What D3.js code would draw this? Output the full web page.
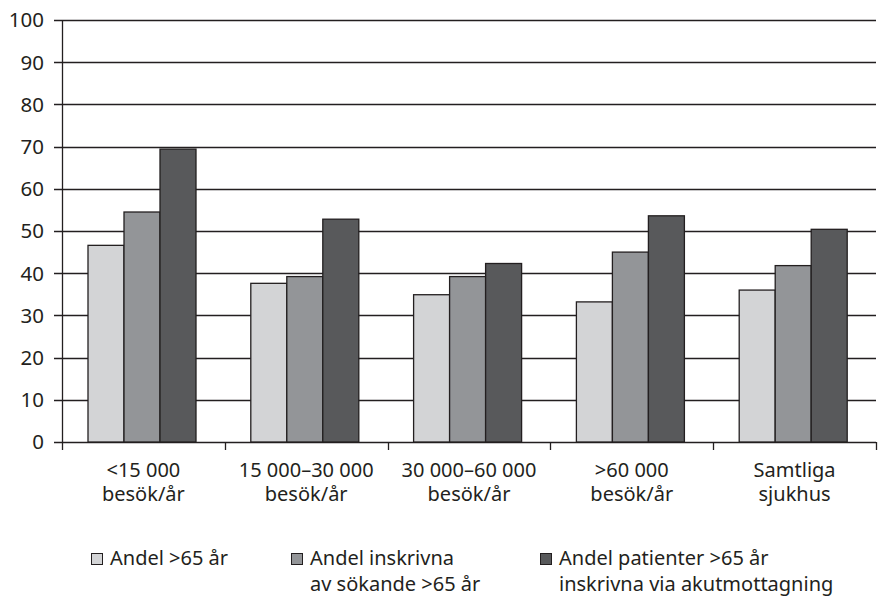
<!DOCTYPE html>
<html>
<head>
<meta charset="utf-8">
<script src="https://cdn.jsdelivr.net/npm/d3@7"></script>
<style>
  body { margin: 0; background: #fff; }
  svg text { font-family: "Noto Sans", "Open Sans", sans-serif; fill: #231f20; }
</style>
</head>
<body>
<div id="chart"></div>
<script>
const categories = [['<15 000', 'besök/år'], ['15 000–30 000', 'besök/år'], ['30 000–60 000', 'besök/år'], ['>60 000', 'besök/år'], ['Samtliga', 'sjukhus']]
const seriesNames = [['Andel >65 år'], ['Andel inskrivna', 'av sökande >65 år'], ['Andel patienter >65 år', 'inskrivna via akutmottagning']]
const andel65 = [46.6, 37.6, 34.9, 33.2, 36.0]
const andelInskrivna = [54.5, 39.2, 39.2, 45.0, 41.8]
const andelAkut = [69.4, 52.8, 42.3, 53.6, 50.4]
const yTicks = [0, 10, 20, 30, 40, 50, 60, 70, 80, 90, 100]

const series = [andel65, andelInskrivna, andelAkut]
const colors = ['#d3d4d6', '#939598', '#58595b']

const width = 880
const height = 597
const margin = { top: 20, right: 4, bottom: 155, left: 62 }
const innerW = width - margin.left - margin.right
const innerH = height - margin.top - margin.bottom

const svg = d3.select('#chart')
  .append('svg')
  .attr('width', width)
  .attr('height', height)

const g = svg.append('g')
  .attr('transform', `translate(${margin.left},${margin.top})`)

const x = d3.scaleBand()
  .domain(d3.range(categories.length))
  .range([0, 814])

const xInner = d3.scaleBand()
  .domain(d3.range(series.length))
  .range([26, 26 + 108])

const y = d3.scaleLinear()
  .domain([0, 100])
  .range([innerH, 0])

// gridlines with outward ticks
g.append('g')
  .selectAll('line')
  .data(yTicks)
  .join('line')
  .attr('x1', -8)
  .attr('x2', innerW)
  .attr('y1', d => Math.round(y(d)) + 0.5)
  .attr('y2', d => Math.round(y(d)) + 0.5)
  .attr('stroke', '#231f20')
  .attr('stroke-width', 1.3)

g.append('g')
  .selectAll('text')
  .data(yTicks)
  .join('text')
  .attr('x', -18)
  .attr('y', d => y(d))
  .attr('dy', '0.36em')
  .attr('text-anchor', 'end')
  .style('font-size', '20.5px')
  .text(d => d)

// y axis line
g.append('line')
  .attr('x1', 0.5).attr('x2', 0.5)
  .attr('y1', 0).attr('y2', innerH)
  .attr('stroke', '#231f20')
  .attr('stroke-width', 1.3)

// category ticks
g.append('g')
  .selectAll('line')
  .data(d3.range(categories.length + 1))
  .join('line')
  .attr('x1', d => Math.round(d * x.step()) + 0.5)
  .attr('x2', d => Math.round(d * x.step()) + 0.5)
  .attr('y1', innerH)
  .attr('y2', innerH + 8)
  .attr('stroke', '#231f20')
  .attr('stroke-width', 1.3)

// bars
const groups = g.append('g')
  .selectAll('g')
  .data(categories)
  .join('g')
  .attr('transform', (d, i) => `translate(${x(i)},0)`)

groups.selectAll('rect')
  .data((d, i) => series.map((s, k) => ({ k, v: s[i] })))
  .join('rect')
  .attr('x', d => xInner(d.k))
  .attr('width', xInner.bandwidth())
  .attr('y', d => y(d.v))
  .attr('height', d => innerH - y(d.v))
  .attr('fill', d => colors[d.k])
  .attr('stroke', '#231f20')
  .attr('stroke-width', 1.3)

// category labels
groups.append('text')
  .attr('x', x.bandwidth() / 2)
  .attr('y', innerH + 35)
  .attr('text-anchor', 'middle')
  .style('font-size', '20px')
  .selectAll('tspan')
  .data(d => d)
  .join('tspan')
  .attr('x', x.bandwidth() / 2)
  .attr('dy', (d, i) => i === 0 ? 0 : 24)
  .text(d => d)

// legend
const legendX = [91, 291, 540]
const legend = svg.append('g')
  .selectAll('g')
  .data(seriesNames)
  .join('g')
  .attr('transform', (d, i) => `translate(${legendX[i]},553)`)

legend.append('rect')
  .attr('x', 0.5)
  .attr('y', 0.5)
  .attr('width', 11)
  .attr('height', 11)
  .attr('fill', (d, i) => colors[i])
  .attr('stroke', '#231f20')
  .attr('stroke-width', 1)

legend.append('text')
  .attr('y', 12)
  .style('font-size', '20px')
  .selectAll('tspan')
  .data(d => d)
  .join('tspan')
  .attr('x', 19)
  .attr('dy', (d, i) => i === 0 ? 0 : 26)
  .text(d => d)
</script>
</body>
</html>
